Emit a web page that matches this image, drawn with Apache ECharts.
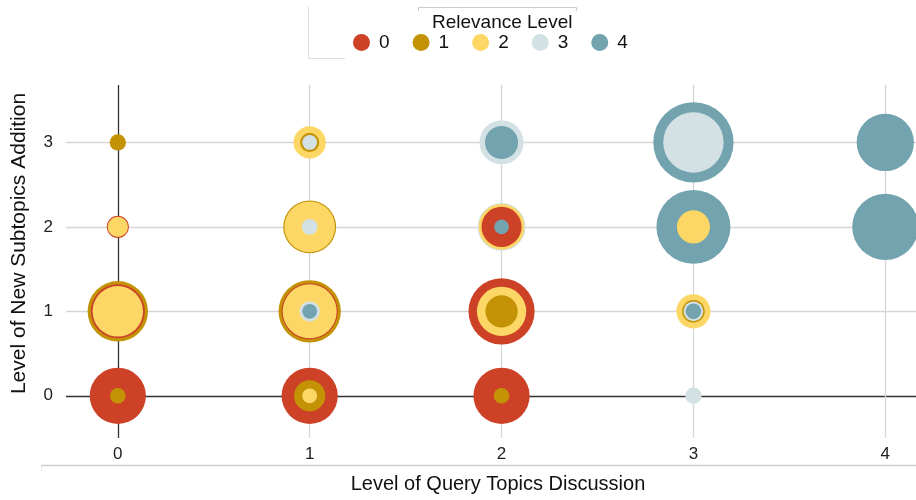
<!DOCTYPE html>
<html>
<head>
<meta charset="utf-8">
<script src="https://cdn.jsdelivr.net/npm/echarts@6/dist/echarts.min.js"></script>
<style>
  html, body { margin: 0; padding: 0; background: #fff; }
  #chart { width: 916px; height: 500px; }
</style>
</head>
<body>
<div id="chart"></div>
<script>
// axis ticks
const topicTicks = [0, 1, 2, 3, 4]
const subtopicTicks = [0, 1, 2, 3]
const relevanceLevels = ['0', '1', '2', '3', '4']
const levelColors = ['#cd4127', '#c39305', '#fcd766', '#d3e1e5', '#72a3ae']

// [topic level, subtopic level, size] per relevance level
const rel0 = [[0, 0, 13], [1, 0, 13], [2, 0, 13], [0, 1, 12], [1, 1, 13], [2, 1, 18], [0, 2, 2], [2, 2, 6.6]]
const rel1 = [[0, 0, 1], [1, 0, 4], [2, 0, 1], [0, 1, 15], [1, 1, 16], [2, 1, 4.3], [3, 1, 2.1], [1, 2, 11.5], [0, 3, 1.1], [1, 3, 1.5]]
const rel2 = [[1, 0, 0.9], [0, 1, 10.5], [1, 1, 12], [2, 1, 10], [3, 1, 4.8], [0, 2, 1.7], [1, 2, 10.5], [2, 2, 8.6], [3, 2, 4.5], [1, 3, 4.3]]
const rel3 = [[3, 0, 1.1], [1, 1, 1.7], [3, 1, 1.6], [1, 2, 1], [2, 2, 9.4], [1, 3, 0.9], [2, 3, 8], [3, 3, 15]]
const rel4 = [[1, 1, 0.9], [3, 1, 1], [2, 2, 0.9], [3, 2, 22.5], [2, 3, 4.5], [3, 3, 26.5], [4, 2, 18], [4, 3, 13.5]]

const chart = echarts.init(document.getElementById('chart'))

// one combined list, biggest first so smaller circles sit on top
const allPoints = []
;[rel0, rel1, rel2, rel3, rel4].forEach((arr, lvl) => {
  arr.forEach(p => allPoints.push([p[0], p[1], p[2], lvl]))
})
allPoints.sort((a, b) => b[2] - a[2])

// first split line (value 0) is the dark zero line
const gridColors = ['#333333', '#d6d6d6', '#d6d6d6', '#d6d6d6', '#d6d6d6']
const font = 'Liberation Sans, Arial, sans-serif'

chart.setOption({
  animation: false,
  title: {
    text: 'Relevance Level',
    left: 427, top: 8,
    textStyle: { fontSize: 19, fontWeight: 'normal', color: '#111', fontFamily: font }
  },
  legend: {
    data: relevanceLevels,
    left: 353, top: 33, padding: 0,
    icon: 'circle', itemWidth: 17, itemHeight: 17, itemGap: 23,
    textStyle: { fontSize: 19, color: '#111', fontFamily: font, padding: [0, 0, 0, 4] }
  },
  grid: { left: 66, right: 0, top: 85, bottom: 62 },
  xAxis: {
    type: 'value', min: -0.27, max: 4.16,
    name: 'Level of Query Topics Discussion',
    nameLocation: 'middle', nameGap: 36,
    nameTextStyle: { fontSize: 20, color: '#111', fontFamily: font, padding: [0, 0, 0, 14] },
    axisLine: { show: false },
    axisTick: { show: false, customValues: topicTicks },
    axisLabel: { customValues: topicTicks, margin: 8, fontSize: 17, color: '#222', fontFamily: font },
    splitLine: { show: true, lineStyle: { color: gridColors, width: 1.3 } }
  },
  yAxis: {
    type: 'value', min: -0.5, max: 3.68,
    name: 'Level of New Subtopics Addition',
    nameLocation: 'middle', nameGap: 36,
    nameTextStyle: { fontSize: 21, color: '#111', fontFamily: font, padding: [0, 0, 0, 36] },
    axisLine: { show: false },
    axisTick: { show: false, customValues: subtopicTicks },
    axisLabel: { customValues: subtopicTicks, margin: 13, fontSize: 17, color: '#222', fontFamily: font },
    splitLine: { show: true, lineStyle: { color: gridColors, width: 1.3 } }
  },
  series: [
    {
      name: 'points',
      type: 'scatter',
      data: allPoints,
      symbolSize: v => 15.6 * Math.sqrt(v[2]),
      itemStyle: { color: p => levelColors[p.data[3]], opacity: 1 },
      clip: false,
      z: 3
    },
    // legend-only entries
    ...relevanceLevels.map((name, i) => ({
      name, type: 'scatter', data: [], itemStyle: { color: levelColors[i], opacity: 1 }
    }))
  ],
  graphic: [
    { type: 'line', shape: { x1: 41, y1: 465.5, x2: 916, y2: 465.5 }, style: { stroke: '#cfcfcf', lineWidth: 1.5 } },
    { type: 'line', shape: { x1: 41.5, y1: 465, x2: 41.5, y2: 471 }, style: { stroke: '#e4e4e4', lineWidth: 1 } },
    { type: 'polyline', shape: { points: [[308.5, 7], [308.5, 58.5], [345, 58.5]] }, style: { stroke: '#dddddd', lineWidth: 1, fill: null } },
    { type: 'polyline', shape: { points: [[418.5, 11], [418.5, 7.5], [576.5, 7.5], [576.5, 11]] }, style: { stroke: '#cccccc', lineWidth: 1, fill: null } }
  ]
})

window.addEventListener('resize', () => chart.resize())
</script>
</body>
</html>
